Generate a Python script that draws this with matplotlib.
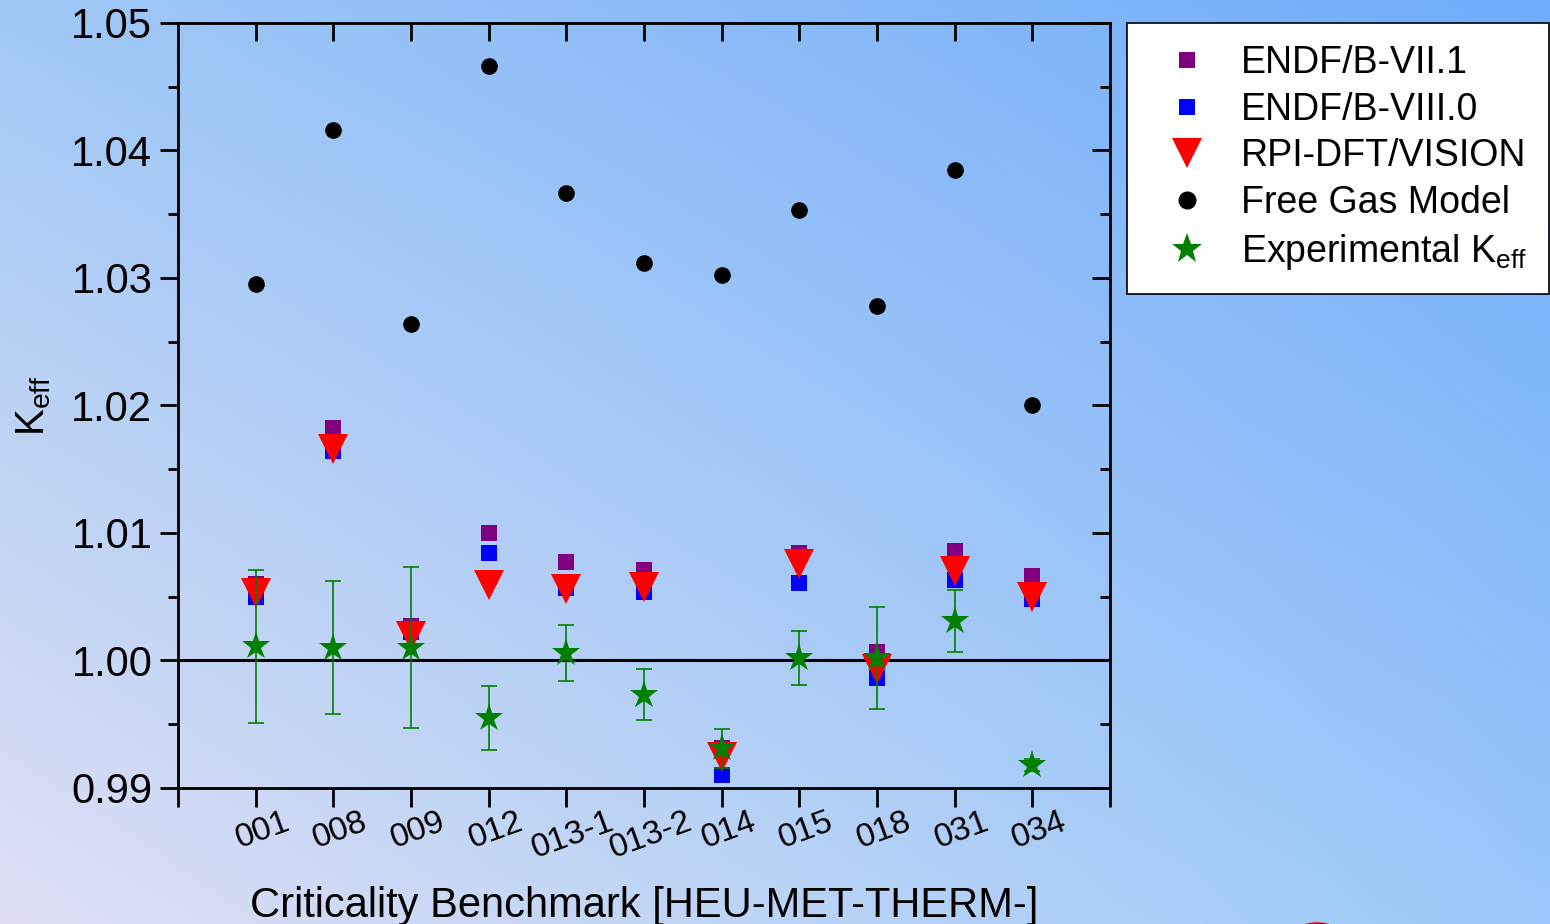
import numpy as np
import matplotlib
matplotlib.use('Agg')
import matplotlib.pyplot as plt
import matplotlib.transforms as mtransforms
from matplotlib.lines import Line2D
from matplotlib.patches import Circle

benchmarks = ['001', '008', '009', '012', '013-1', '013-2', '014', '015', '018', '031', '034']
endf71 = [1.0060, 1.0182, 1.0027, 1.0100, 1.0077, 1.0071, 0.9931, 1.0084, 1.0007, 1.0086, 1.0066]
endf80 = [1.0050, 1.0164, 1.0022, 1.0084, 1.0057, 1.0054, 0.9910, 1.0061, 0.9986, 1.0063, 1.0048]
rpi = [1.0053, 1.0166, 1.0019, 1.0059, 1.0056, 1.0058, 0.9924, 1.0076, 0.9993, 1.0070, 1.0050]
free_gas = [1.0295, 1.0416, 1.0264, 1.0466, 1.0367, 1.0312, 1.0302, 1.0353, 1.0278, 1.0385, 1.0200]
exp_keff = [1.0011, 1.0010, 1.0010, 0.9955, 1.0006, 0.9973, 0.9931, 1.0002, 1.0002, 1.0031, 0.9918]
exp_err = [0.0060, 0.0052, 0.0063, 0.0025, 0.0022, 0.0020, 0.0015, 0.0021, 0.0040, 0.0024, 0.0005]

plt.rcParams['font.family'] = ['Liberation Sans', 'DejaVu Sans']
plt.rcParams['mathtext.fontset'] = 'custom'
plt.rcParams['mathtext.rm'] = 'Liberation Sans'
plt.rcParams['mathtext.it'] = 'Liberation Sans:italic'

W, H = 1550, 924
fig = plt.figure(figsize=(W / 100, H / 100), dpi=100)

# background gradient
bg = fig.add_axes([0, 0, 1, 1], zorder=-10)
tl = np.array([0xa0, 0xc8, 0xf5]) / 255
tr = np.array([0x70, 0xac, 0xfc]) / 255
bl = np.array([0xe0, 0xe0, 0xf4]) / 255
br = np.array([0x98, 0xc8, 0xf8]) / 255
u = np.linspace(0, 1, 300)[None, :, None]
v = np.linspace(0, 1, 200)[:, None, None]
img = (1 - v) * ((1 - u) * tl + u * tr) + v * ((1 - u) * bl + u * br)
bg.imshow(img, extent=[0, W, H, 0], aspect='auto', interpolation='bilinear')
bg.set_xlim(0, W)
bg.set_ylim(H, 0)
bg.add_patch(Circle((1317, 968), 45, facecolor='#e00000', edgecolor='#e00000', linewidth=1))
bg.axis('off')

ax = fig.add_axes([178 / W, (H - 788) / H, (1110 - 178) / W, (788 - 23) / H])
ax.patch.set_alpha(0)
x = np.arange(1, len(benchmarks) + 1)

ax.axhline(1.0, color='black', linewidth=2.2, zorder=1)
ax.plot(x, endf71, 's', color='purple', markersize=11, markeredgewidth=0, zorder=2)
ax.plot(x, endf80, 's', color='blue', markersize=11, markeredgewidth=0, zorder=3)
ax.plot(x, rpi, 'v', color='red', markersize=21, markeredgewidth=0, zorder=4)
ax.plot(x, free_gas, 'o', color='black', markersize=12, markeredgewidth=0, zorder=4)
ax.errorbar(x, exp_keff, yerr=exp_err, fmt='none', ecolor='green', elinewidth=1.2,
            capsize=5.5, capthick=1.2, zorder=5)
ax.plot(x, exp_keff, '*', color='green', markersize=21, markeredgewidth=0, zorder=6)

ax.set_xlim(0, 12)
ax.set_ylim(0.99, 1.05)
ax.set_xticks(np.arange(0, 13))
ax.set_xticklabels([''] + benchmarks + [''])
yt = np.arange(0.99, 1.0501, 0.01)
ax.set_yticks(yt)
ax.set_yticklabels(['%.2f' % t for t in yt])
ax.set_yticks(np.arange(0.995, 1.05, 0.01), minor=True)

ax.tick_params(axis='x', direction='out', length=14, width=2, labelsize=24, pad=-1)
ax.tick_params(axis='y', which='major', direction='out', length=13, width=2, labelsize=30, pad=5.5)
ax.tick_params(axis='y', which='minor', direction='out', length=7, width=2)
shift = mtransforms.ScaledTranslation(7 / 100, 0, fig.dpi_scale_trans)
for lab in ax.get_xticklabels():
    lab.set_rotation(20)
    lab.set_ha('center')
    lab.set_transform(lab.get_transform() + shift)
for s in ax.spines.values():
    s.set_linewidth(2)

axr = ax.twinx()
axr.patch.set_visible(False)
axr.set_ylim(0.99, 1.05)
axr.set_yticks(yt)
axr.set_yticks(np.arange(0.995, 1.05, 0.01), minor=True)
axr.tick_params(axis='y', which='major', direction='in', length=13, width=2, labelright=False)
axr.tick_params(axis='y', which='minor', direction='in', length=7, width=2)

axt = ax.twiny()
axt.patch.set_visible(False)
axt.set_xlim(0, 12)
axt.set_xticks(x)
axt.tick_params(axis='x', direction='in', length=13, width=2, labeltop=False)

ax.set_xlabel('Criticality Benchmark [HEU-MET-THERM-]', fontsize=30)
ax.xaxis.label.set_va('baseline')
ax.xaxis.set_label_coords(0.5, (788 - 917) / 765)
ax.set_ylabel(r'K$_{\mathrm{eff}}$', fontsize=29)
ax.yaxis.set_label_coords((53 - 178) / 932, 0.5)

handles = [
    Line2D([], [], linestyle='none', marker='s', color='purple', markersize=11, markeredgewidth=0),
    Line2D([], [], linestyle='none', marker='s', color='blue', markersize=11, markeredgewidth=0),
    Line2D([], [], linestyle='none', marker='v', color='red', markersize=21, markeredgewidth=0),
    Line2D([], [], linestyle='none', marker='o', color='black', markersize=13, markeredgewidth=0),
    Line2D([], [], linestyle='none', marker='*', color='green', markersize=23, markeredgewidth=0),
]
labels = ['ENDF/B-VII.1', 'ENDF/B-VIII.0', 'RPI-DFT/VISION', 'Free Gas Model',
          r'Experimental K$_{\mathrm{eff}}$']
leg = fig.legend(handles, labels, loc='upper left', bbox_to_anchor=(1127 / W, 1 - 23 / H),
                 borderaxespad=0, frameon=True, fancybox=False, framealpha=1,
                 edgecolor='black', facecolor='white', fontsize=27, borderpad=0.58,
                 handlelength=2.04, handletextpad=0.42, labelspacing=0.29)
leg.get_frame().set_linewidth(1.2)

fig.savefig('out.png', dpi=100)
